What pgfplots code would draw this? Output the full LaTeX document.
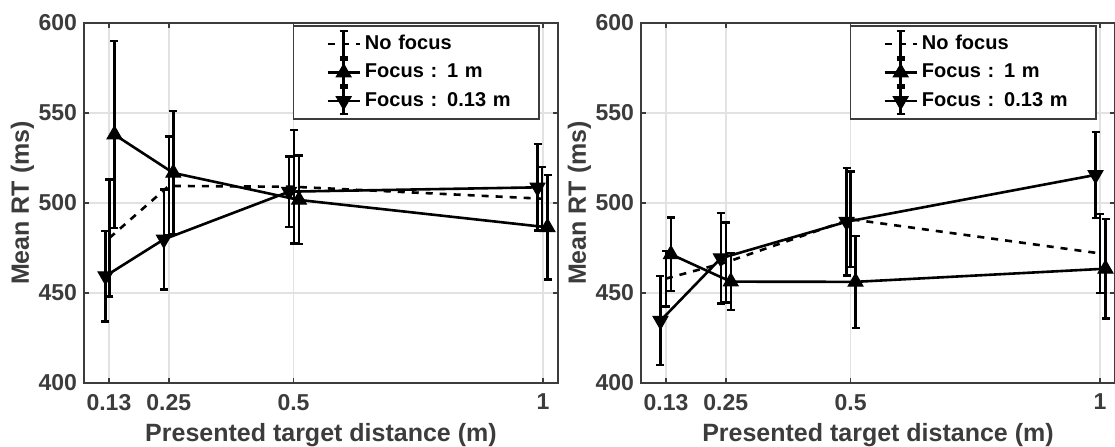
\documentclass[border=0pt]{standalone}
\usepackage{fontspec}
\setmainfont{Liberation Sans}
\usepackage{pgfplots}
\pgfplotsset{compat=1.18}

\definecolor{axgray}{RGB}{60,60,60}
\definecolor{gridgray}{RGB}{226,226,226}

\pgfplotsset{
  panel/.style={
    scale only axis,
    width=237pt, height=180pt,
    xmin=0.08, xmax=1.03,
    ymin=400, ymax=600,
    xtick={0.13,0.25,0.5,1},
    xticklabels={0.13,0.25,0.5,1},
    ytick={400,450,500,550,600},
    yticklabels={400,450,500,550,600},
    grid=major,
    major grid style={gridgray, line width=0.8pt},
    axis line style={axgray, line width=1pt},
    tick style={axgray, line width=0.8pt},
    major tick length=2.5pt,
    tick align=inside,
    ticklabel style={font=\bfseries\fontsize{11.5}{12}\selectfont, text=axgray},
    xticklabel style={yshift=-2pt},
    xlabel={Presented target distance (m)},
    ylabel={Mean RT (ms)},
    label style={font=\bfseries\fontsize{12.5}{14}\selectfont, text=axgray},
    xlabel style={at={(axis description cs:0.5,-0.163)}, anchor=base},
    ylabel style={at={(axis description cs:-0.130,0.5)}, anchor=center},
    legend style={at={(axis description cs:0.9616,0.994)}, anchor=north east,
      draw=axgray, line width=0.8pt, font=\bfseries\fontsize{10}{12}\selectfont,
      inner xsep=0pt, inner ysep=2pt, row sep=0pt, column sep=1pt,
      nodes={inner xsep=1pt, text width=86pt, text height=7.2pt, text depth=2pt, inner ysep=2pt}},
    legend cell align=left,
    error bars/y dir=both, error bars/y explicit,
    error bars/error bar style={line width=1.2pt, solid},
    error bars/error mark=-,
    error bars/error mark options={rotate=90, line width=1.2pt, mark size=2pt, solid},
  },
  errlegend/.style={legend image code/.code={
      \path (0pt,0pt);
      \draw[##1, mark=none] (16.5pt,0pt) -- (32.5pt,0pt);
      \draw[solid, line width=1.2pt, black] (24.5pt,-6.5pt) -- (24.5pt,6.5pt)
        (22.5pt,-6.5pt) -- (26.5pt,-6.5pt) (22.5pt,6.5pt) -- (26.5pt,6.5pt);
      \draw[##1, only marks] plot coordinates {(24.5pt,0pt)};
  }},
  nofocus/.style={black, line width=1.3pt, dash pattern=on 3.5pt off 3.5pt, mark=none, errlegend},
  focusfar/.style={black, line width=1.3pt, solid, mark=triangle*, mark size=4.3pt,
      mark options={solid, fill=black, line width=0.5pt}, errlegend},
  focusnear/.style={black, line width=1.3pt, solid, mark=triangle*, mark size=4.3pt,
      mark options={solid, fill=black, line width=0.5pt, rotate=180}, errlegend},
}

\begin{document}
\begin{tikzpicture}
\begin{axis}[panel, at={(42pt,31.5pt)}, anchor=south west]
  \addplot[nofocus] coordinates {
    (0.131,480.6) +- (0,32.5)
    (0.250,509.5) +- (0,27.5)
    (0.501,509.0) +- (0,31.5)
    (0.998,502.4) +- (0,17.6)
  };
  \addplot[focusfar] coordinates {
    (0.141,538.0) +- (0,52.0)
    (0.259,516.7) +- (0,34.3)
    (0.511,501.7) +- (0,24.6)
    (1.009,486.5) +- (0,29.0)
  };
  \addplot[focusnear] coordinates {
    (0.123,459.4) +- (0,25.2)
    (0.240,479.8) +- (0,27.8)
    (0.491,506.3) +- (0,19.6)
    (0.989,508.7) +- (0,24.0)
  };
  \legend{No focus, Focus : 1 m, Focus : 0.13 m}
\end{axis}

\begin{axis}[panel, at={(320.5pt,31.5pt)}, anchor=south west]
  \addplot[nofocus] coordinates {
    (0.130,458.0) +- (0,15.4)
    (0.250,467.0) +- (0,22.2)
    (0.500,491.0) +- (0,26.4)
    (1.000,472.0) +- (0,22.0)
  };
  \addplot[focusfar] coordinates {
    (0.140,471.5) +- (0,20.4)
    (0.260,456.3) +- (0,15.8)
    (0.510,456.2) +- (0,25.5)
    (1.011,463.5) +- (0,27.6)
  };
  \addplot[focusnear] coordinates {
    (0.119,434.6) +- (0,24.7)
    (0.240,469.3) +- (0,25.2)
    (0.492,489.6) +- (0,29.9)
    (0.991,515.6) +- (0,23.9)
  };
  \legend{No focus, Focus : 1 m, Focus : 0.13 m}
\end{axis}
\pgfresetboundingbox
\path (0,0) rectangle (557.5pt,223pt);
\end{tikzpicture}
\end{document}
